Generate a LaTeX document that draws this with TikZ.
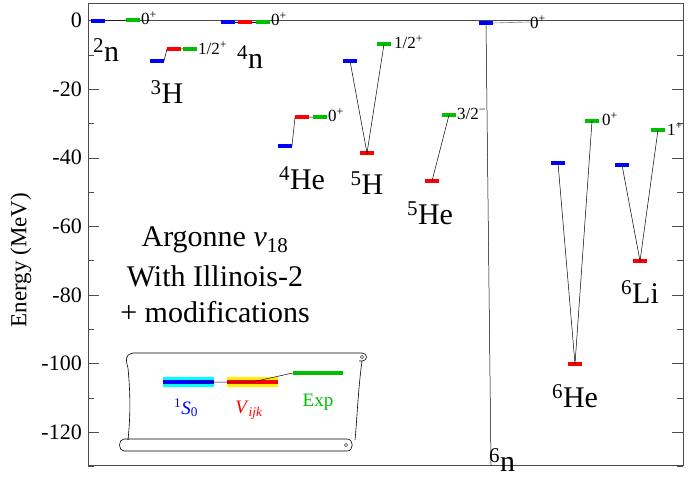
\documentclass[tikz,border=0pt]{standalone}
\usepackage{fontspec}
\setmainfont{Liberation Serif}
\newcommand{\sps}[1]{\textsuperscript{#1}}
\begin{document}
\begin{tikzpicture}[x=1pt,y=-1pt,
  lvl/.style={fill=#1,minimum width=13.5pt,minimum height=3.2pt,inner sep=0pt,draw=none},
  conn/.style={black,line width=0.5pt},
  jp/.style={font=\fontsize{17}{17}\selectfont,inner sep=1pt,anchor=west},
  nuc/.style={font=\fontsize{30}{30}\selectfont,inner sep=0pt},
  big/.style={font=\fontsize{30}{30}\selectfont,inner sep=0pt},
  tk/.style={font=\fontsize{22}{22}\selectfont,anchor=east,inner sep=0pt}]
\definecolor{cb}{RGB}{0,0,255}\definecolor{cr}{RGB}{255,0,0}\definecolor{cg}{RGB}{0,190,0}
\definecolor{cc}{RGB}{0,255,255}\definecolor{cy}{RGB}{255,240,0}
\useasboundingbox (0,0) rectangle (692,487);
% frame and axis
\draw[gray!60!black,line width=0.6pt] (88,3) rectangle (683,465);
\draw[gray!60!black,line width=0.6pt] (88,20.5) -- (683,20.5);
\foreach \v in {0,-20,-40,-60,-80,-100,-120}{
  \pgfmathsetmacro\yy{20.5-3.43*\v}
  \draw[gray!60!black] (88,\yy) -- (99,\yy) (683,\yy) -- (672,\yy);
  \node[tk] at (82,\yy) {\v};}
\foreach \v in {-10,-30,-50,-70,-90,-110,-130}{
  \pgfmathsetmacro\yy{20.5-3.43*\v}
  \draw[gray!60!black] (88,\yy) -- (94,\yy) (683,\yy) -- (677,\yy);}
\node[rotate=90,font=\fontsize{23}{23}\selectfont] (ylab) at (21,260) {Energy (MeV)};
% 2n
\node[lvl=cb] (n2b) at (98,21) {};
\node[lvl=cg] (n2g) at (133,20) {};
\draw[conn] (n2b) -- (n2g);
\node[jp] (n2j) at (140,18) {0\sps{+}};
\node[nuc] (n2) at (106,50) {\sps{2}n};
% 3H
\node[lvl=cb] (h3b) at (157,61) {};
\node[lvl=cr] (h3r) at (174,49) {};
\node[lvl=cg] (h3g) at (190,49) {};
\draw[conn] (h3b.east) -- (h3r.west) (h3r) -- (h3g);
\node[jp] (h3j) at (197,48) {1/2\sps{+}};
\node[nuc] (h3) at (167,92) {\sps{3}H};
% 4n
\node[lvl=cb] (n4b) at (228,22) {};
\node[lvl=cr] (n4r) at (245,22) {};
\node[lvl=cg] (n4g) at (263,22) {};
\draw[conn] (n4b) -- (n4r) -- (n4g);
\node[jp] (n4j) at (270,19) {0\sps{+}};
\node[nuc] (n4) at (250,57) {\sps{4}n};
% 4He
\node[lvl=cb] (he4b) at (285,146) {};
\node[lvl=cr] (he4r) at (302,117) {};
\node[lvl=cg] (he4g) at (320,117) {};
\draw[conn] (he4b.east) -- (he4r.west) (he4r) -- (he4g);
\node[jp] (he4j) at (327,115) {0\sps{+}};
\node[nuc] (he4) at (302,178) {\sps{4}He};
% 5H
\node[lvl=cb] (h5b) at (350,61) {};
\node[lvl=cr] (h5r) at (367,153) {};
\node[lvl=cg] (h5g) at (384,44) {};
\draw[conn] (h5b.center) -- (h5r.center) -- (h5g.center);
\node[jp] (h5j) at (393,42) {1/2\sps{+}};
\node[nuc] (h5) at (367,183) {\sps{5}H};
% 5He
\node[lvl=cr] (he5r) at (432,181) {};
\node[lvl=cg] (he5g) at (449,115) {};
\draw[conn] (he5r.center) -- (he5g.center);
\node[jp] (he5j) at (456,114) {3/2\sps{−}};
\node[nuc] (he5) at (430,213) {\sps{5}He};
% 6n
\node[lvl=cb] (n6b) at (486,23) {};
\coordinate (n6end) at (491,465);
\draw[conn] (n6b.center) -- (n6end);
\node[jp] (n6j) at (529,22) {0\sps{+}};
\draw[gray,line width=0.6pt] (n6b.east) -- (n6j.west);
\node[nuc] (n6) at (502,460) {\sps{6}n};
% 6He
\node[lvl=cb] (he6b) at (558,163) {};
\node[lvl=cr] (he6r) at (575,364) {};
\node[lvl=cg] (he6g) at (592,121) {};
\draw[conn] (he6b.center) -- (he6r.center) -- (he6g.center);
\node[jp] (he6j) at (601,119) {0\sps{+}};
\node[nuc] (he6) at (575,396) {\sps{6}He};
% 6Li
\node[lvl=cb] (li6b) at (622,165) {};
\node[lvl=cr] (li6r) at (640,261) {};
\node[lvl=cg] (li6g) at (658,130) {};
\draw[conn] (li6b.center) -- (li6r.center) -- (li6g.center);
\node[jp] (li6j) at (666,129) {1\sps{+}};
\node[nuc] (li6) at (640,292) {\sps{6}Li};
% text
\node[big] (t1) at (215,240) {Argonne \textit{v}\textsubscript{18}};
\node[big] (t2) at (215,276) {With Illinois-2};
\node[big] (t3) at (215,312) {+ modifications};
% scroll
\draw[line width=0.6pt] (133,353) -- (362,353) .. controls (368,353) and (368,361) .. (362,361) -- (359,361)
  (133,353) .. controls (124,355) and (126,360) .. (128,368) .. controls (131,400) and (130,420) .. (128,440)
  (362,361) .. controls (358,390) and (357,420) .. (355,440)
  (124,439) -- (347,439) .. controls (354,439) and (354,451) .. (347,451) -- (124,451) .. controls (118,451) and (118,439) .. (124,439);
\draw (362,357) circle (1.6);
\draw (346,445) circle (1.6);
\node[fill=cc,minimum width=51pt,minimum height=10pt,inner sep=0] (lc) at (188,382) {};
\node[fill=cb,minimum width=51pt,minimum height=4pt,inner sep=0] (lb) at (188,382) {};
\node[fill=cy,minimum width=51pt,minimum height=10pt,inner sep=0] (ly) at (252,382) {};
\node[fill=cr,minimum width=51pt,minimum height=4pt,inner sep=0] (lr) at (252,382) {};
\node[fill=cg,minimum width=50pt,minimum height=4pt,inner sep=0] (lg) at (318,373) {};
\draw[conn] (lb.center) -- (lr.west) -- (lr.center) -- (lg.west);
\node[text=cb,font=\fontsize{19}{19}\selectfont] (ls) at (186,408) {\sps{1}\textit{S}\textsubscript{0}};
\node[text=cr,font=\fontsize{19}{19}\selectfont] (lv) at (249,410) {\textit{V}\textsubscript{\textit{ijk}}};
\node[text=cg,font=\fontsize{19}{19}\selectfont] (le) at (318,402) {Exp};
\end{tikzpicture}
\end{document}
